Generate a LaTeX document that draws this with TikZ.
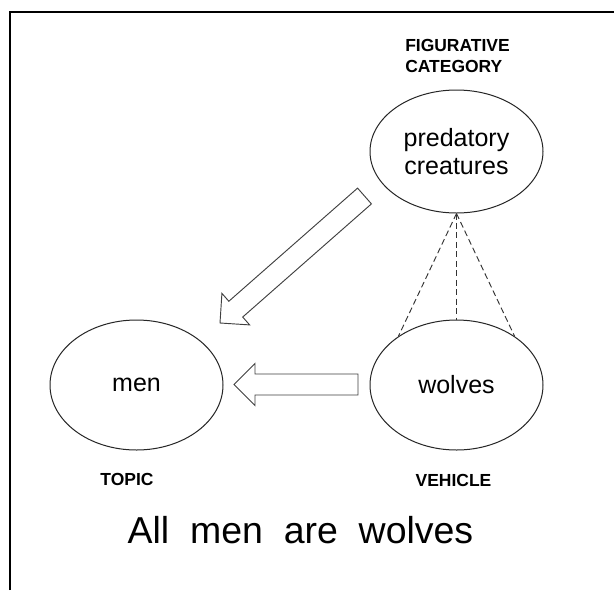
\documentclass[tikz,border=0pt]{standalone}
\usepackage{fontspec}
\setmainfont{Liberation Sans}
\usetikzlibrary{shapes.geometric,calc}

% Hollow block arrow from tail (#1) to tip (#2)
\newcommand\blockarrow[2]{%
  \coordinate (ba-h) at ($(#2)!15.75pt!(#1)$);
  \draw[bigarrow] (#2)
    -- ($(ba-h)!15.75pt!90:(#1)$)
    -- ($(ba-h)!7.875pt!90:(#1)$)
    -- ($(#1)!7.875pt!-90:(#2)$)
    -- ($(#1)!7.875pt!90:(#2)$)
    -- ($(ba-h)!7.875pt!-90:(#1)$)
    -- ($(ba-h)!15.75pt!-90:(#1)$)
    -- cycle;}

\tikzset{
  concept/.style={ellipse, draw=black!85, line width=0.75pt, inner sep=0pt,
    minimum width=129.75pt, align=center,
    font=\fontsize{18.75pt}{21pt}\selectfont},
  role/.style={inner sep=0pt, font=\fontsize{13.1pt}{15.75pt}\selectfont\bfseries},
  bigarrow/.style={draw=black!75, line width=0.7pt, fill=white, line join=miter},
  link/.style={draw=black!80, line width=0.7pt, dash pattern=on 4.5pt off 2.6pt},
  frame/.style={line width=1.5pt}
}

\begin{document}
\begin{tikzpicture}[x=0.75pt, y=-0.75pt]
  \useasboundingbox (0,0) rectangle (614,590);
  \fill[white] (0,0) rectangle (614,590);

  % outer frame (top and left edges)
  \draw[frame] (10,590) -- (10,11.5) -- (614,11.5);

  % concepts
  \node[concept, minimum height=92.25pt] (pred) at (456.5,151.5) {predatory\\creatures};
  \node[concept, minimum height=97.5pt] (men) at (136.5,385) {men};
  \node[concept, minimum height=97.5pt] (wolves) at (456.5,385) {wolves};

  % roles
  \node[role, anchor=north west, align=left] (fig) at (405,39.5) {FIGURATIVE\\CATEGORY};
  \node[role] (topic) at (127,479) {TOPIC};
  \node[role] (vehicle) at (453.5,480) {VEHICLE};

  % category membership
  \draw[link] (pred.south) -- (wolves.140);
  \draw[link] (pred.south) -- (wolves.north);
  \draw[link] (pred.south) -- (wolves.40);

  % mappings
  \coordinate (dtail) at (364.5,196);
  \coordinate (dtip) at (220,323);
  \blockarrow{dtail}{dtip}
  \coordinate (htail) at (358,384.5);
  \coordinate (htip) at (234,384.5);
  \blockarrow{htail}{htip}

  % sentence
  \node[inner sep=0pt, anchor=base, font=\fontsize{28.1pt}{34pt}\selectfont]
    (sentence) at (300.5,543) {All\ \ men\ \ are\ \ wolves};
\end{tikzpicture}
\end{document}
